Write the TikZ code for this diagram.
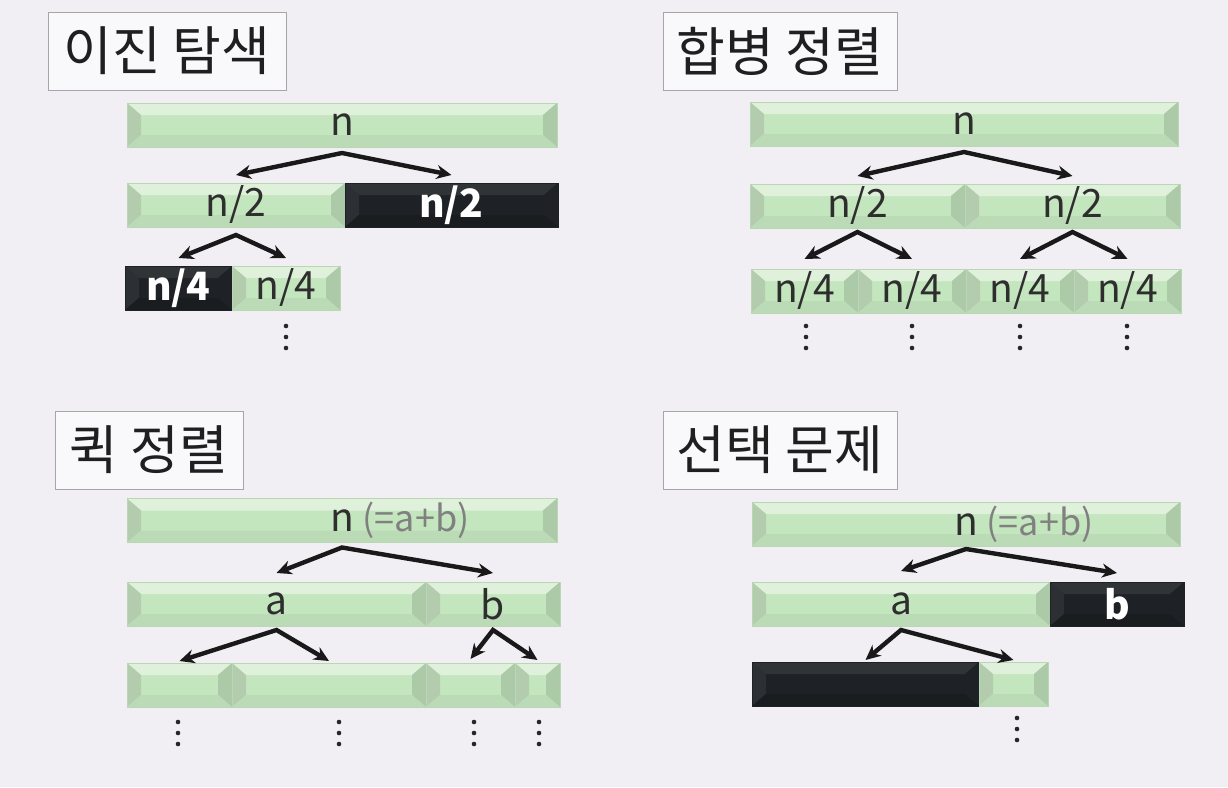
\documentclass[tikz,border=0pt]{standalone}
\usepackage{fontspec}
\setmainfont{Noto Sans CJK KR}
\usetikzlibrary{arrows.meta}
\definecolor{bg}{HTML}{F1EFF4}
\definecolor{barfill}{HTML}{C4E6BE}
\definecolor{darkfill}{HTML}{1E2226}
\definecolor{labelgray}{HTML}{2E2E2E}
% bevel faces: top, left, right, bottom
\newcommand\bevelfill[4]{%
  \fill[#1] (path picture bounding box.north west) -- ([shift={(14pt,-12pt)}]path picture bounding box.north west)
    -- ([shift={(-14pt,-12pt)}]path picture bounding box.north east) -- (path picture bounding box.north east) -- cycle;
  \fill[#2] (path picture bounding box.north west) -- ([shift={(14pt,-12pt)}]path picture bounding box.north west)
    -- ([shift={(14pt,12pt)}]path picture bounding box.south west) -- (path picture bounding box.south west) -- cycle;
  \fill[#3] (path picture bounding box.north east) -- ([shift={(-14pt,-12pt)}]path picture bounding box.north east)
    -- ([shift={(-14pt,12pt)}]path picture bounding box.south east) -- (path picture bounding box.south east) -- cycle;
  \fill[#4] (path picture bounding box.south west) -- ([shift={(14pt,12pt)}]path picture bounding box.south west)
    -- ([shift={(-14pt,12pt)}]path picture bounding box.south east) -- (path picture bounding box.south east) -- cycle;}
\newcommand\sumnote{\rlap{~\color{gray}\fontsize{36}{44}\selectfont(=a+b)}}
\begin{document}
\begin{tikzpicture}[x=1pt,y=-1pt,
  title/.style={draw=gray!70, fill=white!60!bg, line width=0.8pt, inner sep=0pt, minimum height=78pt,
    font=\fontsize{53}{60}\selectfont, text=black!88},
  bar/.style={minimum height=44pt, inner sep=0pt, outer sep=0pt, fill=barfill, text=labelgray,
    draw=barfill!85!gray, line width=0.5pt, font=\fontsize{39}{44}\selectfont,
    path picture={\bevelfill{barfill!55!white}{barfill!75!gray}{barfill!88!black}{barfill!95!black}}},
  darkbar/.style={bar, fill=darkfill, text=white, draw=darkfill, font=\fontsize{39}{44}\selectfont\bfseries,
    path picture={\bevelfill{darkfill!92!white}{darkfill!94!white}{darkfill}{darkfill!85!black}}},
  split/.style={draw=black!90, line width=4.4pt, line join=miter,
    {Stealth[length=15pt,width=14pt]}-{Stealth[length=15pt,width=14pt]}},
  more/.style={fill=black!85}]
\fill[bg] (0,0) rectangle (1228,787);
\useasboundingbox (0,0) rectangle (1228,787);

% binary search
\node[title, minimum width=238pt] (bstitle) at (167,51) {이진 탐색};
\node[bar, minimum width=430pt] (bsn) at (342,125) {n};
\node[bar, minimum width=218pt] (bshalf) at (236,205) {n/2};
\node[darkbar, minimum width=213pt] (bscut) at (451.5,205) {n/2};
\node[darkbar, minimum width=107pt] (bsqcut) at (178.5,288) {n/4};
\node[bar, minimum width=108pt] (bsquart) at (286,288) {n/4};
\draw[split] ([yshift=8pt]bshalf.north) -- ([yshift=-6pt]bsn.south) -- ([yshift=8pt]bscut.north);
\draw[split] ([yshift=8pt]bsqcut.north) -- ([yshift=-8pt]bshalf.south) -- ([yshift=8pt]bsquart.north);
\foreach \y in {326,337,348} \fill[more] (286,\y) circle (2.3pt);

% merge sort
\node[title, minimum width=234pt] (mstitle) at (780,51) {합병 정렬};
\node[bar, minimum width=428pt] (msn) at (964,124) {n};
\node[bar, minimum width=215pt] (msl) at (857.5,206) {n/2};
\node[bar, minimum width=215pt] (msr) at (1072.5,206) {n/2};
\node[bar, minimum width=107pt] (msll) at (804.5,291) {n/4};
\node[bar, minimum width=108pt] (mslr) at (912,291) {n/4};
\node[bar, minimum width=108pt] (msrl) at (1020,291) {n/4};
\node[bar, minimum width=107pt] (msrr) at (1127.5,291) {n/4};
\draw[split] ([yshift=8pt]msl.north) -- ([yshift=-6pt]msn.south) -- ([yshift=8pt]msr.north);
\draw[split] ([yshift=10pt]msll.north) -- ([yshift=-4pt]msl.south) -- ([yshift=10pt]mslr.north);
\draw[split] ([yshift=10pt]msrl.north) -- ([yshift=-4pt]msr.south) -- ([yshift=10pt]msrr.north);
\foreach \x in {806,912,1020,1127} \foreach \y in {326,337,348} \fill[more] (\x,\y) circle (2.3pt);

% quick sort
\node[title, minimum width=188pt] (qstitle) at (149,450) {퀵 정렬};
\node[bar, minimum width=430pt] (qsn) at (342,520.5) {n\sumnote};
\node[bar, minimum width=299pt] (qsa) at (276.5,604) {a};
\node[bar, minimum width=134pt] (qsb) at (493,604) {b};
\node[bar, minimum width=105pt] (qsa1) at (179.5,685) {};
\node[bar, minimum width=194pt] (qsa2) at (329,685) {};
\node[bar, minimum width=89pt] (qsb1) at (470.5,685) {};
\node[bar, minimum width=45pt] (qsb2) at (537.5,685) {};
\draw[split] ([yshift=9pt]qsa.north) -- ([yshift=-5pt]qsn.south) -- ([yshift=9pt]qsb.north);
\draw[split] ([yshift=2pt]qsa1.north) -- ([yshift=-4pt]qsa.south) -- ([yshift=2pt]qsa2.north);
\draw[split] ([yshift=4pt]qsb1.north) -- ([yshift=-4pt]qsb.south) -- ([yshift=3pt]qsb2.north);
\foreach \x in {178,339,474,539} \foreach \y in {722,733,744} \fill[more] (\x,\y) circle (2.3pt);

% selection
\node[title, minimum width=234pt] (sstitle) at (780,450) {선택 문제};
\node[bar, minimum width=428pt] (ssn) at (966,524) {n\sumnote};
\node[bar, minimum width=298pt] (ssa) at (901,604) {a};
\node[darkbar, minimum width=134pt] (ssb) at (1117,604) {b};
\node[darkbar, minimum width=227pt] (sscut) at (865.5,684) {};
\node[bar, minimum width=69pt] (ssrest) at (1013.5,684) {};
\draw[split] ([yshift=11pt]ssa.north) -- ([yshift=-3pt]ssn.south) -- ([yshift=9pt]ssb.north);
\draw[split] ([yshift=2pt]sscut.north) -- ([yshift=-4pt]ssa.south) -- ([yshift=2pt]ssrest.north);
\foreach \y in {718,729,740} \fill[more] (1017,\y) circle (2.3pt);
\end{tikzpicture}
\end{document}
